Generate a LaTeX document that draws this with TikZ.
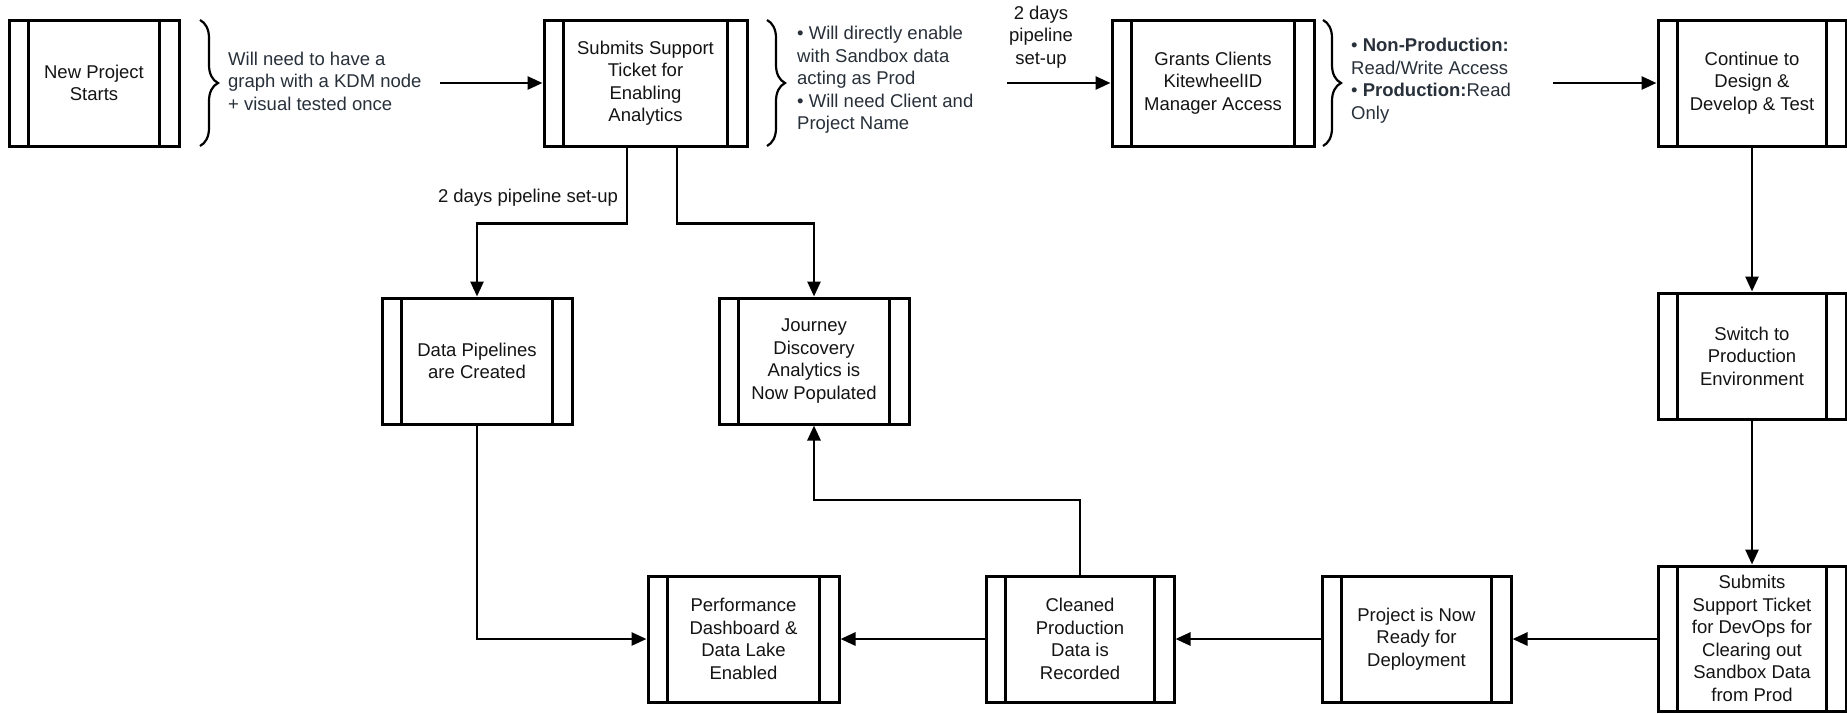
\documentclass[tikz,border=0pt]{standalone}
\usepackage{fontspec}
\setmainfont{Liberation Sans}
\usetikzlibrary{arrows.meta,decorations.pathreplacing,calc}
\definecolor{annot}{RGB}{40,48,58}
\definecolor{ink}{RGB}{20,20,20}
\begin{document}
\begin{tikzpicture}[x=1pt,y=-1pt,
  every node/.style={font=\fontsize{18.5pt}{22.5pt}\selectfont},
  proc/.style={draw=black, line width=3pt, rectangle, minimum height=126pt,
    align=center, inner sep=0pt, text=ink,
    path picture={\draw[line width=3pt]
      ([xshift=\barw]path picture bounding box.north west) -- ([xshift=\barw]path picture bounding box.south west)
      ([xshift=-\barw]path picture bounding box.north east) -- ([xshift=-\barw]path picture bounding box.south east);}},
  arr/.style={line width=2.7pt, -{Triangle[length=15pt,width=13pt]}},
  brc/.style={line width=2.2pt, decorate, decoration={brace,amplitude=18pt}},
  note/.style={text=annot, align=left, anchor=west, inner sep=0pt},
  lbl/.style={text=ink, align=center, inner sep=0pt}]
\def\barw{19.5pt}
\useasboundingbox (0,0) rectangle (1847,713);
\fill[white] (0,0) rectangle (1847,713);

% top row
\node[proc, minimum width=170pt] (b1) at (94,83) {New Project\\Starts};
\node[proc, minimum width=203pt] (b2) at (645.5,83) {Submits Support\\Ticket for\\Enabling\\Analytics};
\node[proc, minimum width=202pt] (b3) at (1213,83) {Grants Clients\\KitewheelID\\Manager Access};
\node[proc, minimum width=188pt] (b4) at (1752,83) {Continue to\\Design \&\\Develop \& Test};

% middle row
\node[proc, minimum width=190pt] (b5) at (477,361) {Data Pipelines\\are Created};
\node[proc, minimum width=190pt] (b6) at (814,361) {Journey\\Discovery\\Analytics is\\Now Populated};
\node[proc, minimum width=188pt] (b7) at (1752,356) {Switch to\\Production\\Environment};

% bottom row
\node[proc, minimum width=188pt, minimum height=145pt] (b8) at (1752,638.5) {Submits\\Support Ticket\\for DevOps for\\Clearing out\\Sandbox Data\\from Prod};
\node[proc, minimum width=189pt] (b9) at (1416.5,639) {Project is Now\\Ready for\\Deployment};
\node[proc, minimum width=188pt] (b10) at (1080,639) {Cleaned\\Production\\Data is\\Recorded};
\node[proc, minimum width=191pt] (b11) at (743.5,639) {Performance\\Dashboard \&\\Data Lake\\Enabled};

% braces
\draw[brc] (200,20) -- (200,146);
\draw[brc] (767,20) -- (767,146);
\draw[brc] (1323,20) -- (1323,146);

% annotation texts
\node[note] (t1) at (228,81) {Will need to have a\\graph with a KDM node\\+ visual tested once};
\node[note] (t2) at (797,80) {• Will directly enable\\with Sandbox data\\acting as Prod\\• Will need Client and\\Project Name};
\node[note] (t3) at (1351,80.5) {• \textbf{Non-Production:}\\Read/Write Access\\• \textbf{Production:}Read\\Only};

% labels
\node[lbl] (l1) at (1041,37) {2 days\\pipeline\\set-up};
\node[lbl] (l2) at (528,198) {2 days pipeline set-up};

% arrow start points
\coordinate (a1) at (440,83);
\coordinate (a2) at (1007,83);
\coordinate (a3) at (1553,83);

% connectors
\draw[arr] (a1) -- (b2.west);
\draw[arr] (a2) -- (b3.west);
\draw[arr] (a3) -- (b4.west);
\draw[arr] (b4.south) -- (b7.north);
\draw[arr] (b7.south) -- (b8.north);
\draw[arr] (b8.west |- b9.east) -- (b9.east);
\draw[arr] (b9.west) -- (b10.east);
\draw[arr] (b10.west) -- (b11.east);
\draw[arr] ([xshift=-18.5pt]b2.south) -- ++(0,76) -| (b5.north);
\draw[arr] ([xshift=31.5pt]b2.south) -- ++(0,76) -| (b6.north);
\draw[arr] (b5.south) |- (b11.west);
\draw[arr] (b10.north) |- ($(b6.south)!0.5!(b10.north)$) -| (b6.south);
\end{tikzpicture}
\end{document}
